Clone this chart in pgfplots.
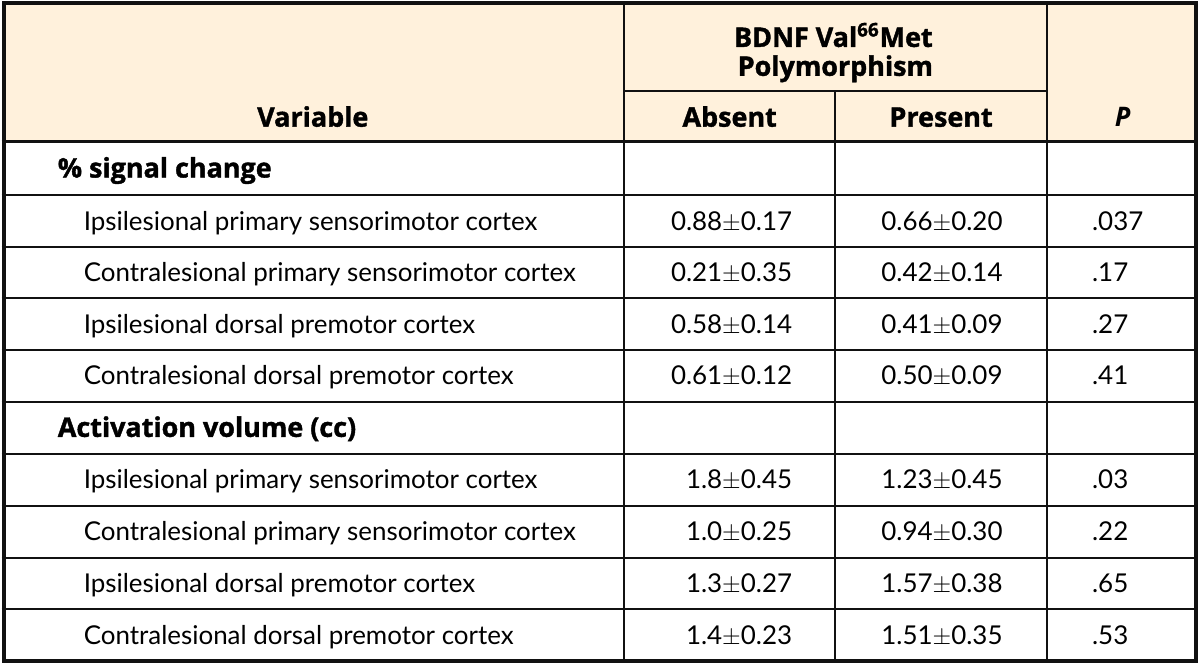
\documentclass[border=0pt]{standalone}
\usepackage{pgfplots}
\pgfplotsset{compat=1.18}
\usepackage{pgfplotstable}
\usepackage{fontspec}
\setmainfont{Lato}
\newfontfamily\hfont{Open Sans}[BoldFeatures={FakeBold=1.4}]
\definecolor{hdr}{HTML}{FFF1DC}
\definecolor{rule}{HTML}{111111}

\pgfplotstableread[col sep=comma]{
y,label,absent,present,p
221,Ipsilesional primary sensorimotor cortex,0.88$\pm$0.17,0.66$\pm$0.20,.037
272.5,Contralesional primary sensorimotor cortex,0.21$\pm$0.35,0.42$\pm$0.14,.17
324,Ipsilesional dorsal premotor cortex,0.58$\pm$0.14,0.41$\pm$0.09,.27
376,Contralesional dorsal premotor cortex,0.61$\pm$0.12,0.50$\pm$0.09,.41
480,Ipsilesional primary sensorimotor cortex,1.8$\pm$0.45,1.23$\pm$0.45,.03
532,Contralesional primary sensorimotor cortex,1.0$\pm$0.25,0.94$\pm$0.30,.22
584,Ipsilesional dorsal premotor cortex,1.3$\pm$0.27,1.57$\pm$0.38,.65
636,Contralesional dorsal premotor cortex,1.4$\pm$0.23,1.51$\pm$0.35,.53
}\rows

\pgfplotstableread[col sep=comma]{
y,label
168,\% signal change
428,Activation volume (cc)
}\sections

\newcommand{\tf}{\fontsize{13}{15}\selectfont}
\newcommand{\hf}{\hfont\fontsize{13.5}{15}\selectfont\bfseries}

\begin{document}
\begin{tikzpicture}
\begin{axis}[
  width=600pt, height=332pt, scale only axis,
  xmin=0, xmax=1200, ymin=0, ymax=664, y dir=reverse,
  hide axis, clip=false,
  nodes near coords,
  point meta=explicit symbolic,
  every node near coord/.append style={font=\tf, inner sep=0pt, yshift=-4.5pt, text=black},
]
% header background
\fill[hdr] (axis cs:0,0) rectangle (axis cs:1200,141);

% grid lines
\pgfplotsinvokeforeach{195,247,298,350,402,454,506,558,610}{
  \draw[rule, line width=1pt] (axis cs:0,#1) -- (axis cs:1200,#1);
}
\draw[rule, line width=1.6pt] (axis cs:0,141) -- (axis cs:1200,141);
\draw[rule, line width=1pt] (axis cs:624,90) -- (axis cs:1048,90);
\draw[rule, line width=1pt] (axis cs:624,0) -- (axis cs:624,664);
\draw[rule, line width=1pt] (axis cs:836,90) -- (axis cs:836,664);
\draw[rule, line width=1pt] (axis cs:1048,0) -- (axis cs:1048,664);
\draw[rule, line width=2pt] (axis cs:2,2) rectangle (axis cs:1198,662);

% header text
\node[font=\hf, anchor=base, inner sep=0pt] at (axis cs:312,126) {Variable};
\node[font=\hf, anchor=base, inner sep=0pt] at (axis cs:834,46) {BDNF Val\textsuperscript{66}Met};
\node[font=\hf, anchor=base, inner sep=0pt] at (axis cs:836,75) {Polymorphism};
\node[font=\hf, anchor=base, inner sep=0pt] at (axis cs:730,126) {Absent};
\node[font=\hf, anchor=base, inner sep=0pt] at (axis cs:942,126) {Present};
\node[font=\hf\itshape, anchor=base, inner sep=0pt] at (axis cs:1124,126) {P};

% section headers
\addplot[draw=none, mark=none, every node near coord/.append style={anchor=base west, font=\hf}]
  table[x expr=56, y=y, meta=label] {\sections};
% row labels
\addplot[draw=none, mark=none, every node near coord/.append style={anchor=base west}]
  table[x expr=82, y=y, meta=label] {\rows};
% absent
\addplot[draw=none, mark=none, every node near coord/.append style={anchor=base east}]
  table[x expr=793, y=y, meta=absent] {\rows};
% present
\addplot[draw=none, mark=none, every node near coord/.append style={anchor=base east}]
  table[x expr=1004, y=y, meta=present] {\rows};
% p
\addplot[draw=none, mark=none, every node near coord/.append style={anchor=base west}]
  table[x expr=1093, y=y, meta=p] {\rows};
\end{axis}
\end{tikzpicture}
\end{document}
